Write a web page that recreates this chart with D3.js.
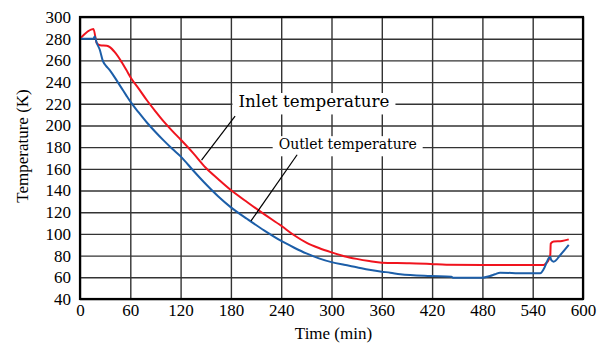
<!DOCTYPE html>
<html>
<head>
<meta charset="utf-8">
<script src="https://d3js.org/d3.v7.min.js"></script>
<style>
  html, body { margin: 0; padding: 0; background: #fff; }
  svg { display: block; }
  text { font-family: "Liberation Serif", "Times New Roman", serif; fill: #000; }
</style>
</head>
<body>
<div id="chart"></div>
<script>
// Inlet / outlet temperature during cool-down
const inletTime = [0, 16, 20, 24, 32, 36, 41, 45, 50, 55, 61, 70, 80, 90, 100, 110, 120, 135, 150, 165, 180,
  200, 220, 240, 255, 270, 285, 300, 315, 330, 345, 360, 390, 418, 437, 480, 553, 556, 559, 561, 561.5, 565, 575, 583];
const inletTemp = [280, 289, 276, 274, 273.5, 272, 268, 264, 258, 251.5, 243.5, 234, 223, 213, 203.5, 195, 187, 174.5, 161, 150.5, 140.5,
  129, 118, 107.5, 99, 92, 87, 83, 79.5, 77, 75, 73.5, 73, 72.3, 71.5, 71.3, 71.3, 73, 76, 81, 91, 93, 93.5, 95];

const outletTime = [0, 16, 17.5, 20, 23.5, 27.5, 31, 35, 40, 45, 50, 55, 61, 70, 80, 90, 100, 110, 120, 135, 150, 165, 180,
  200, 220, 240, 255, 270, 285, 300, 315, 330, 345, 360, 370, 382, 418, 443, 445, 479, 489, 495, 501, 529, 549,
  553, 559, 561, 562, 565, 573, 583];
const outletTemp = [280, 280, 282, 276, 270, 259, 255, 251.5, 246, 240, 234, 228, 221, 212, 202.5, 194, 186, 178.5, 171.5, 158.5, 146, 134.5, 124.5,
  113.5, 103, 93.5, 87.5, 82, 77.5, 74, 71.5, 69.3, 67, 65.2, 64.3, 62.8, 61.2, 60.6, 59.6, 59.6, 61.2, 62.8, 64.3, 63.7, 63.7,
  67.4, 77.5, 79, 76, 74.4, 80.6, 89.8];

const xTicks = [0, 60, 120, 180, 240, 300, 360, 420, 480, 540, 600];
const yTicks = [40, 60, 80, 100, 120, 140, 160, 180, 200, 220, 240, 260, 280, 300];

// annotation: label, text anchor point, leader start, leader end (data units)
const labels = ["Inlet temperature", "Outlet temperature"];
const labelAt = [[189, 217], [237, 178]];
const leaderFrom = [[185, 208.7], [259, 173]];
const leaderTo = [[145, 168], [204, 112]];

const W = 604, H = 349;
const margin = { left: 80, right: 21, top: 17, bottom: 50 };
const serif = '"Liberation Serif", "Times New Roman", serif';

const svg = d3.select('#chart').append('svg')
  .attr('width', W).attr('height', H);

const x = d3.scaleLinear().domain([0, 600]).range([margin.left, W - margin.right]);
const y = d3.scaleLinear().domain([40, 300]).range([H - margin.bottom, margin.top]);

// grid + tick labels
const gx = svg.append('g')
  .attr('transform', `translate(0,${y(40)})`)
  .call(d3.axisBottom(x).tickValues(xTicks).tickSize(-(y(40) - y(300))).tickPadding(6).tickFormat(d3.format('d')));
const gy = svg.append('g')
  .attr('transform', `translate(${x(0)},0)`)
  .call(d3.axisLeft(y).tickValues(yTicks).tickSize(-(x(600) - x(0))).tickPadding(9).tickFormat(d3.format('d')));

[gx, gy].forEach(g => {
  g.attr('font-family', serif).attr('font-size', 17);
  g.select('.domain').remove();
  g.selectAll('line').attr('stroke', '#333').attr('stroke-width', 1.4);
  g.selectAll('text').attr('font-family', serif).attr('font-size', 17).attr('fill', '#000');
});
gx.selectAll('text').attr('dy', null).attr('y', 17);

// white boxes behind annotation labels
const ann = svg.append('g');
labels.forEach((t, i) => {
  const fs = i === 0 ? 16.5 : 15.5;
  const tw = i === 0 ? 151 : 138;
  const tx = x(labelAt[i][0]), ty = y(labelAt[i][1]);
  ann.append('rect')
    .attr('x', tx - 6).attr('y', ty - fs * 0.85)
    .attr('width', tw + 12).attr('height', fs * 1.3)
    .attr('fill', '#fff');
});

// curves
const line = d3.line().x(d => x(d[0])).y(d => y(d[1])).curve(d3.curveMonotoneX);
const series = [
  { t: inletTime, v: inletTemp, color: '#f0141e' },
  { t: outletTime, v: outletTemp, color: '#1c5ea8' }
];
series.forEach(s => {
  svg.append('path')
    .datum(s.t.map((t, i) => [t, s.v[i]]))
    .attr('d', line)
    .attr('fill', 'none')
    .attr('stroke', s.color)
    .attr('stroke-width', 2)
    .attr('stroke-linejoin', 'round');
});

// leaders + labels
labels.forEach((t, i) => {
  ann.append('line')
    .attr('x1', x(leaderFrom[i][0])).attr('y1', y(leaderFrom[i][1]))
    .attr('x2', x(leaderTo[i][0])).attr('y2', y(leaderTo[i][1]))
    .attr('stroke', '#000').attr('stroke-width', 1.2);
  ann.append('text')
    .attr('x', x(labelAt[i][0])).attr('y', y(labelAt[i][1]))
    .style('font-family', '"DejaVu Serif", serif')
    .style('font-size', (i === 0 ? 16.5 : 15.5) + 'px')
    .attr('textLength', i === 0 ? 151 : 138)
    .attr('lengthAdjust', 'spacingAndGlyphs')
    .text(t);
});
svg.node().appendChild(ann.node());

// frame
svg.append('rect')
  .attr('x', x(0)).attr('y', y(300))
  .attr('width', x(600) - x(0)).attr('height', y(40) - y(300))
  .attr('fill', 'none').attr('stroke', '#000').attr('stroke-width', 2.2);

// axis titles
svg.append('text')
  .attr('x', x(300) + 2).attr('y', 339)
  .attr('text-anchor', 'middle')
  .style('font-size', '17px')
  .text('Time (min)');
svg.append('text')
  .attr('transform', `translate(28,${(y(300) + y(40)) / 2 - 12}) rotate(-90)`)
  .attr('text-anchor', 'middle')
  .style('font-size', '17px')
  .text('Temperature (K)');
</script>
</body>
</html>
